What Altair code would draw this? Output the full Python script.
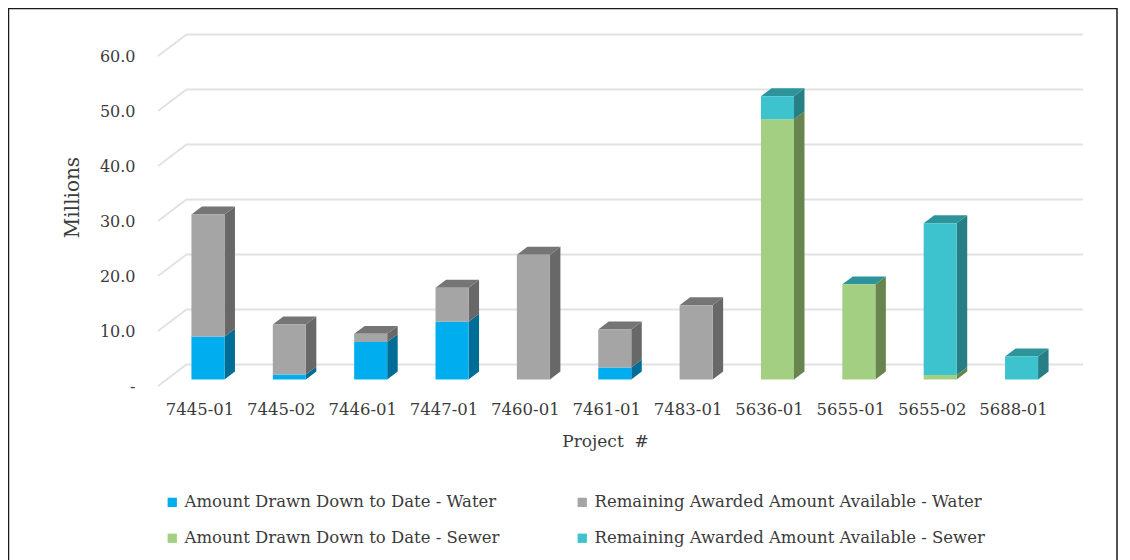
import altair as alt
import pandas as pd

projects = ["7445-01","7445-02","7446-01","7447-01","7460-01","7461-01","7483-01","5636-01","5655-01","5655-02","5688-01"]
drawn_water = [7.8,0.9,6.8,10.5,0,2.2,0,0,0,0,0]
remain_water = [22.2,9.1,1.5,6.2,22.7,6.9,13.5,0,0,0,0]
drawn_sewer = [0,0,0,0,0,0,0,47.3,17.3,0.8,0]
remain_sewer = [0,0,0,0,0,0,0,4.2,0,27.6,4.2]
ticks = [0,10,20,30,40,50,60]

names = ["Amount Drawn Down to Date - Water","Remaining Awarded Amount Available - Water",
         "Amount Drawn Down to Date - Sewer","Remaining Awarded Amount Available - Sewer"]
series = [drawn_water, remain_water, drawn_sewer, remain_sewer]
front = ["#00AEEF","#A5A5A5","#A2CF82","#3DC3CD"]
side = ["#006D96","#686868","#68854F","#277E85"]
top = ["#757575","#757575","#2E949C","#2E949C"]
legend_order = [0, 2, 1, 3]

FONT = "DejaVu Serif"
INK = "#3B3B3B"
BASE, HALF, DX, DY = 1.18, 0.203, 0.129, 1.45
X0, XB, X1, GY = -0.614, -0.264, 10.755, 3.9

fronts, faces = [], []
for i in range(len(projects)):
    cum = BASE
    last = None
    for s, vals in enumerate(series):
        v = vals[i]
        if v <= 0:
            continue
        lo, hi = cum, cum + v
        cum = hi
        last = (s, hi)
        fronts.append(dict(x=i-HALF, xe=i+HALF, y=lo, ye=hi, series=names[s]))
        fid = f"side-{i}-{s}"
        xr = i + HALF
        faces += [dict(x=xr, y=lo, ye=hi, id=fid, shade=side[s]),
                  dict(x=xr+DX, y=lo+DY, ye=hi+DY, id=fid, shade=side[s])]
    s, hi = last
    xl, xr = i-HALF, i+HALF
    fid = f"top-{i}"
    faces += [dict(x=xl, y=hi, ye=hi, id=fid, shade=top[s]),
              dict(x=xl+DX, y=hi, ye=hi+DY, id=fid, shade=top[s]),
              dict(x=xr, y=hi, ye=hi+DY, id=fid, shade=top[s]),
              dict(x=xr+DX, y=hi+DY, ye=hi+DY, id=fid, shade=top[s])]
faces = pd.DataFrame(faces)

grid = []
for t in ticks:
    grid += [dict(x=X0, y=t, t=t, o=0), dict(x=XB, y=t+GY, t=t, o=1), dict(x=X1, y=t+GY, t=t, o=2)]

xs = alt.Scale(domain=[X0, X1], nice=False, zero=False)
ys = alt.Scale(domain=[0, 60], nice=False, zero=False)
lab = "[" + ",".join(f"'{p}'" for p in projects) + "][round(datum.value)]"
xaxis = alt.Axis(values=list(range(len(projects))), labelExpr=lab, title="Project\u00a0\u00a0#", domain=False, ticks=False,
                 grid=False, labelFont=FONT, labelFontSize=16.5, labelColor=INK, labelPadding=15, labelOffset=-8.5,
                 titleFont=FONT, titleFontSize=17, titleFontWeight="normal", titleColor=INK, titlePadding=16,
                 titleX=447, labelOverlap=False, labelFlush=False)
yaxis = alt.Axis(values=ticks, labelExpr="datum.value==0?'-\u00a0\u00a0\u00a0':format(datum.value,'.1f')", title="Millions",
                 domain=False, ticks=False, grid=False, labelFont=FONT, labelFontSize=16, labelColor=INK, labelPadding=23,
                 titleFont=FONT, titleFontSize=20, titleFontWeight="normal", titleColor=INK, titlePadding=17, titleY=141)
X = alt.X("x:Q", scale=xs, axis=xaxis)
Y = alt.Y("y:Q", scale=ys, axis=yaxis, stack=None)

gridl = alt.Chart(pd.DataFrame(grid)).mark_line(color="#E2E2E2", strokeWidth=2).encode(
    x=X, y=Y, detail="t:N", order="o:Q")
facels = [alt.Chart(faces[faces.shade == c]).mark_area(color=c).encode(
    x=X, y=Y, y2="ye:Q", detail="id:N") for c in faces.shade.unique()]
lnames = [names[i] for i in legend_order]
lcols = [front[i] for i in legend_order]
barl = alt.Chart(pd.DataFrame(fronts)).mark_rect().encode(
    x=X, x2="xe:Q", y=Y, y2="ye:Q",
    color=alt.Color("series:N", scale=alt.Scale(domain=lnames, range=lcols), sort=lnames,
        legend=alt.Legend(title=None, orient="none", legendX=6, legendY=438, columns=2, symbolType="square", symbolSize=86,
                          symbolStrokeWidth=0, labelFont=FONT, labelFontSize=16.5, labelColor=INK, labelLimit=500,
                          rowPadding=19, columnPadding=74, symbolOpacity=1)))
anchor = pd.DataFrame({"k":[0]})
rule = lambda a,b,c,d: alt.Chart(anchor).mark_rule(color="#1a1a1a", strokeWidth=1.5).encode(
    x=alt.value(a), x2=alt.value(b), y=alt.value(c), y2=alt.value(d))
borders = [rule(-149.5,-149.5,-48,504), rule(-149.5,959,-47.5,-47.5), rule(959,959,-48,504)]

chart = alt.layer(gridl, *facels, barl, *borders).properties(
    width=925, height=330, autosize=alt.AutoSizeParams(type="none"),
    padding={"left":150,"top":48,"right":39,"bottom":174}
).configure_view(stroke=None)
chart.save("out.html", embed_options={"renderer": "svg", "actions": False})
